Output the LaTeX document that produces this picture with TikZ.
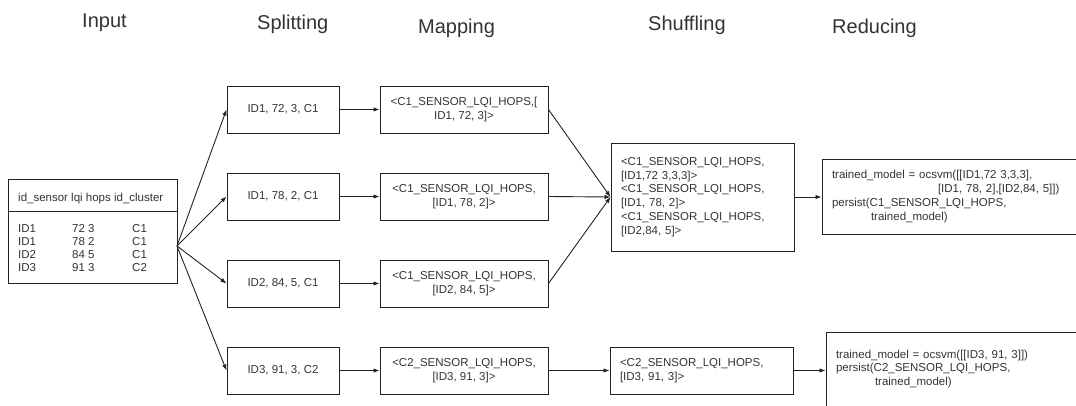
\documentclass[tikz,border=0pt]{standalone}
\usepackage{fontspec}
\setmainfont{Liberation Sans}
\usetikzlibrary{arrows.meta}
\definecolor{ink}{HTML}{333333}
\definecolor{edge}{HTML}{222222}

\begin{document}
\begin{tikzpicture}[x=1pt,y=-1pt,
  every node/.style={font=\fontsize{11.5}{13.8}\selectfont, text=ink},
  box/.style={draw=edge, line width=1pt, inner sep=0pt, minimum height=47pt},
  splitbox/.style={box, minimum width=112pt},
  mapbox/.style={box, minimum width=168pt, align=center},
  listbox/.style={box, align=left, inner xsep=10pt},
  title/.style={font=\fontsize{20}{24}\selectfont, anchor=base west, inner sep=0pt},
  flow/.style={draw=edge, line width=0.9pt, -{Latex[length=6pt,width=4.5pt]}},
  cell/.style={anchor=base west, inner sep=0pt}
]
\clip (0,0) rectangle (1076,405);

% stage headings
\node[title] (tin)  at (82,27)  {Input};
\node[title] (tspl) at (257,29) {Splitting};
\node[title] (tmap) at (418,33) {Mapping};
\node[title] (tshu) at (648,30) {Shuffling};
\node[title] (tred) at (832,33) {Reducing};

% input table
\node[box, minimum width=169pt, minimum height=104pt] (input) at (92.5,231) {};
\coordinate (sepy) at (0,211);
\draw[draw=edge, line width=1pt] (input.west |- sepy) -- (input.east |- sepy);
\node[cell] (head) at (18,201) {id\_sensor lqi hops id\_cluster};
\foreach \i/\id/\lqi/\hops/\cl in {1/ID1/72/3/C1, 2/ID1/78/2/C1, 3/ID2/84/5/C1, 4/ID3/91/3/C2}
  \node[cell] (row\i) at (18,219+13*\i)
    {\makebox[54pt][l]{\id}\makebox[16pt][l]{\lqi}\makebox[44pt][l]{\hops}\cl};

% splitting
\node[splitbox] (s1) at (283,109.5) {ID1, 72, 3, C1};
\node[splitbox] (s2) at (283,196.5) {ID1, 78, 2, C1};
\node[splitbox] (s3) at (283,283.5) {ID2, 84, 5, C1};
\node[splitbox] (s4) at (283,370.5) {ID3, 91, 3, C2};

% mapping
\node[mapbox] (m1) at (464,109.5) {<C1\_SENSOR\_LQI\_HOPS,[\\ID1, 72, 3]>};
\node[mapbox] (m2) at (464,196.5) {<C1\_SENSOR\_LQI\_HOPS,\\{[}ID1, 78, 2]>};
\node[mapbox] (m3) at (464,283.5) {<C1\_SENSOR\_LQI\_HOPS,\\{[}ID2, 84, 5]>};
\node[mapbox] (m4) at (464,370.5) {<C2\_SENSOR\_LQI\_HOPS,\\{[}ID3, 91, 3]>};

% shuffling
\node[listbox, text width=163pt, minimum height=108pt] (shuf) at (702.5,197)
  {<C1\_SENSOR\_LQI\_HOPS,\\{[}ID1,72 3,3,3]>\\<C1\_SENSOR\_LQI\_HOPS,\\{[}ID1, 78, 2]>\\<C1\_SENSOR\_LQI\_HOPS,\\{[}ID2,84, 5]>};
\node[listbox, text width=163pt] (shuf2) at (701.5,370.5)
  {<C2\_SENSOR\_LQI\_HOPS,\\{[}ID3, 91, 3]>};

% reducing
\node[listbox, text width=250pt, minimum height=75pt] (red1) at (957,196.5)
  {trained\_model = ocsvm([[ID1,72 3,3,3],\\\hspace*{106pt}[ID1, 78, 2],[ID2,84, 5]])\\persist(C1\_SENSOR\_LQI\_HOPS,\\\hspace*{39pt}trained\_model)};
\node[listbox, text width=250pt, minimum height=74pt] (red2) at (961,369)
  {trained\_model = ocsvm([[ID3, 91, 3]])\\persist(C2\_SENSOR\_LQI\_HOPS,\\\hspace*{39pt}trained\_model)};

% connectors
\coordinate (fan) at (177,246);
\foreach \n in {s1,s2,s3,s4} \draw[flow] (fan) -- (\n.west);
\foreach \i in {1,2,3,4} \draw[flow] (s\i.east) -- (m\i.west);
\foreach \i in {1,2,3} \draw[flow] (m\i.east) -- (shuf.west);
\draw[flow] (m4.east) -- (shuf2.west);
\draw[flow] (shuf.east) -- (shuf.east -| red1.west);
\draw[flow] (shuf2.east) -- (shuf2.east -| red2.west);
\end{tikzpicture}
\end{document}
